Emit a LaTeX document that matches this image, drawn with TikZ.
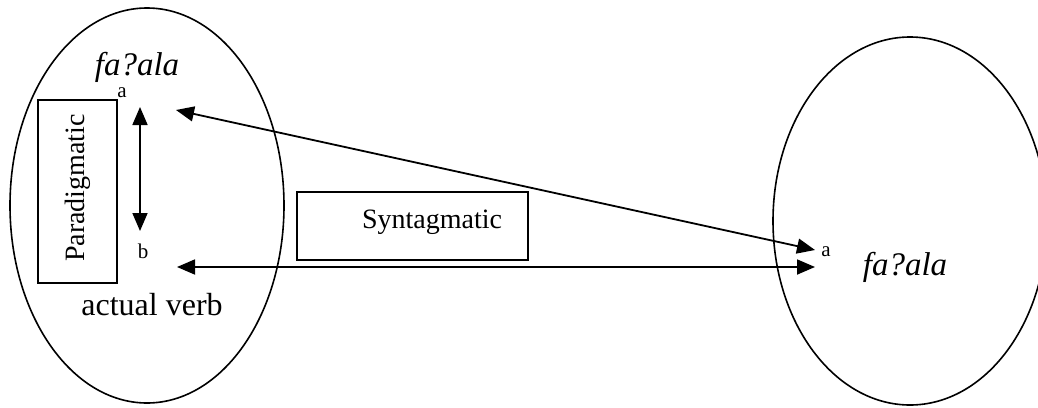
\documentclass[tikz,border=0pt]{standalone}
\usepackage{fontspec}
\setmainfont{Liberation Serif}
\usetikzlibrary{shapes.geometric,arrows.meta}
\tikzset{
  oval/.style={draw, ellipse, line width=1.6pt, inner sep=0pt},
  framebox/.style={draw, rectangle, line width=1.6pt, inner sep=0pt},
  conn/.style={line width=1.8pt, {Triangle[length=18pt,width=15pt]}-{Triangle[length=18pt,width=15pt]}},
  bigit/.style={font=\fontsize{33}{40}\selectfont\itshape, inner sep=0pt},
  mid/.style={font=\fontsize{28}{34}\selectfont, inner sep=0pt},
  big/.style={font=\fontsize{32}{38}\selectfont, inner sep=0pt},
  small/.style={font=\fontsize{21}{25}\selectfont, inner sep=0pt}
}
\begin{document}
\begin{tikzpicture}[x=1pt,y=-1pt]
\useasboundingbox (0,0) rectangle (1038,407);
\clip (0,0) rectangle (1038,407);
% ellipses
\node[oval, minimum width=274pt, minimum height=395pt] (left) at (147,205.5) {};
\node[oval, minimum width=274pt, minimum height=368pt] (right) at (910,221) {};
% boxes
\node[framebox, minimum width=79pt, minimum height=183pt] (parbox) at (77.5,191.5) {};
\node[mid, rotate=90] (partext) at (78,188) {Paradigmatic};
\node[framebox, minimum width=231pt, minimum height=68pt] (synbox) at (412.5,226) {};
\node[mid] (syntext) at (432,222) {Syntagmatic};
% texts
\node[bigit] (fl) at (137,67) {fa?ala};
\node[bigit] (fr) at (905,267) {fa?ala};
\node[big] (av) at (152,305) {actual verb};
\node[small] (la) at (122,93) {a};
\node[small] (lb) at (143,251) {b};
\node[small] (ra) at (826,252) {a};
% arrow end points
\coordinate (va) at (140,107);
\coordinate (vb) at (140,231);
\coordinate (a1) at (176,110);
\coordinate (b1) at (177,267);
\coordinate (a2) at (815,250);
\coordinate (b2) at (815,267);
% connectors
\draw[conn] (va) -- (vb);
\draw[conn] (a1) -- (a2);
\draw[conn] (b1) -- (b2);
\end{tikzpicture}
\end{document}
